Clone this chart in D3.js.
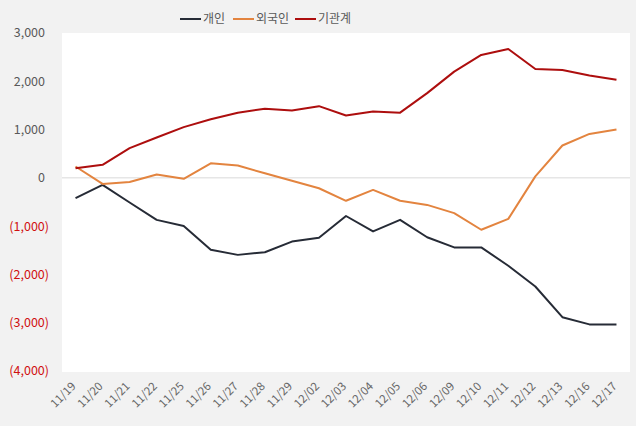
<!DOCTYPE html>
<html><head><meta charset="utf-8">
<script src="https://cdn.jsdelivr.net/npm/d3@7/dist/d3.min.js"></script>
<style>body{margin:0;background:#f2f2f2;}svg{display:block;font-family:"Noto Sans CJK KR","Noto Sans",sans-serif;}</style>
</head><body><svg id="c" width="636" height="426"></svg>
<script>
const categories = ["11/19","11/20","11/21","11/22","11/25","11/26","11/27","11/28","11/29","12/02","12/03","12/04","12/05","12/06","12/09","12/10","12/11","12/12","12/13","12/16","12/17"];
const individual = [-420,-145,-510,-870,-995,-1490,-1595,-1540,-1320,-1240,-790,-1110,-870,-1230,-1440,-1440,-1820,-2250,-2885,-3035,-3035];
const foreign = [235,-125,-85,70,-20,300,255,95,-60,-215,-475,-250,-475,-560,-730,-1075,-850,30,670,910,1000];
const institution = [200,270,615,835,1050,1215,1350,1430,1395,1485,1290,1375,1350,1755,2200,2545,2670,2255,2235,2120,2030];
const yTicks = [3000,2000,1000,0,-1000,-2000,-3000,-4000];
const seriesNames = ["개인","외국인","기관계"];
const seriesColors = ["#262b36","#e3843f","#ad0e0e"];

const series = [individual, foreign, institution];
const svg = d3.select("#c");
const L=62,R=630,T=33,B=371;
svg.append("rect").attr("x",L).attr("y",T).attr("width",R-L).attr("height",B-T+1).attr("fill","#fff");
const x = d3.scalePoint().domain(categories).range([L,R]).padding(0.5);
const y = d3.scaleLinear().domain([-4000,3000]).range([B,T]);
const fmt = d3.format(",");
svg.append("g").selectAll("text").data(yTicks).join("text")
  .attr("x",d=>d<0?49:45).attr("y",d=>y(d)).attr("dy","0.35em")
  .attr("text-anchor","end").attr("font-size",12.5)
  .attr("fill",d=>d<0?"#d01010":"#595959")
  .text(d=>d<0?"("+fmt(-d)+")":fmt(d));
svg.append("line").attr("x1",L).attr("x2",R).attr("y1",y(0)).attr("y2",y(0)).attr("stroke","#d9d9d9").attr("stroke-width",1);
svg.append("g").selectAll("text").data(categories).join("text")
  .attr("transform",d=>`translate(${x(d)+1},${387}) rotate(-45)`)
  .attr("text-anchor","end").attr("font-size",11.5).attr("fill","#666").text(d=>d);
const line = d3.line().x((d,i)=>x(categories[i])).y(d=>y(d));
series.forEach((s,k)=>{
  svg.append("path").attr("d",line(s)).attr("fill","none").attr("stroke",seriesColors[k]).attr("stroke-width",2).attr("stroke-linejoin","round");
});
const lx=[180,233,295];
seriesNames.forEach((n,k)=>{
  svg.append("line").attr("x1",lx[k]).attr("x2",lx[k]+21).attr("y1",19).attr("y2",19).attr("stroke",seriesColors[k]).attr("stroke-width",2);
  svg.append("text").attr("x",lx[k]+23).attr("y",19).attr("dy","0.35em").attr("font-size",12).attr("fill","#595959").text(n);
});
</script></body></html>
